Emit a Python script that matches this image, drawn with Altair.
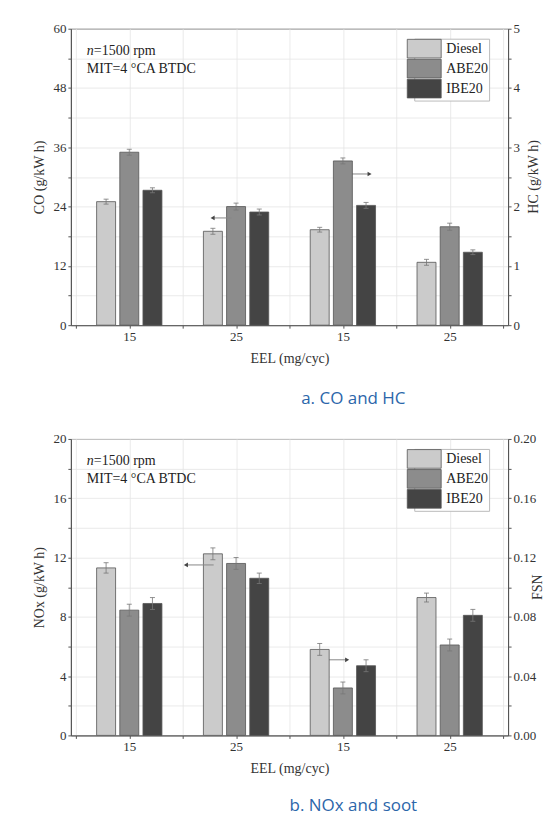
import altair as alt
import pandas as pd

# ---------------- data ----------------
group_labels = ["15", "25", "15", "25"]
fuels = ["Diesel", "ABE20", "IBE20"]
fuel_colors = ["#cbcbcb", "#8c8c8c", "#444444"]

# panel a: CO (groups 1-2, left axis) and HC (groups 3-4, right axis)
co_diesel = [25.0, 19.0]
co_abe20 = [35.0, 24.0]
co_ibe20 = [27.3, 22.9]
co_err_diesel = [0.5, 0.6]
co_err_abe20 = [0.6, 0.7]
co_err_ibe20 = [0.5, 0.6]

hc_diesel = [1.61, 1.06]
hc_abe20 = [2.77, 1.66]
hc_ibe20 = [2.02, 1.23]
hc_err_diesel = [0.04, 0.05]
hc_err_abe20 = [0.05, 0.06]
hc_err_ibe20 = [0.05, 0.04]

# panel b: NOx (groups 1-2, left axis) and FSN (groups 3-4, right axis)
nox_diesel = [11.3, 12.25]
nox_abe20 = [8.45, 11.6]
nox_ibe20 = [8.9, 10.6]
nox_err_diesel = [0.35, 0.4]
nox_err_abe20 = [0.4, 0.4]
nox_err_ibe20 = [0.4, 0.35]

fsn_diesel = [0.058, 0.093]
fsn_abe20 = [0.032, 0.061]
fsn_ibe20 = [0.047, 0.081]
fsn_err_diesel = [0.004, 0.003]
fsn_err_abe20 = [0.004, 0.004]
fsn_err_ibe20 = [0.004, 0.004]

# arrows (in left-axis units): tail x, head x, y, direction
arrows_a_tail = [0.96, 2.02]
arrows_a_head = [0.78, 2.25]
arrows_a_y = [21.7, 30.6]
arrows_b_tail = [0.79, 1.81]
arrows_b_head = [0.53, 2.04]
arrows_b_y = [11.5, 5.1]
arrow_dirs = ["left", "right"]

note_n = ["n"]
note_rpm = ["=1500 rpm"]
note_mit = ["MIT=4 \u00b0CA BTDC"]

SERIF = "Liberation Serif"
BAR_STEP = 0.217


def rows(group_idx, series, errs):
    out = []
    for fi, (fuel, vals, es) in enumerate(zip(fuels, series, errs)):
        for g, v, e in zip(group_idx, vals, es):
            out.append(dict(xpos=g + (fi - 1) * BAR_STEP, fuel=fuel,
                            value=v, lo=v - e, hi=v + e))
    return pd.DataFrame(out)


x_values = [-0.5 + 0.5 * i for i in range(9)]
label_expr = " : ".join(
    f"datum.value == {i} ? '{lab}'" for i, lab in enumerate(group_labels)
) + " : ''"

X_SCALE = alt.Scale(domain=[-0.5, 3.5], nice=False, zero=False)
X_AXIS = alt.Axis(values=x_values, labelExpr=label_expr, title="EEL (mg/cyc)",
                  grid=True, labelPadding=2, titlePadding=8)

W, H = 438, 297


def xenc(field):
    return alt.X(field, type="quantitative", scale=X_SCALE, axis=X_AXIS)


def make_panel(left_df, right_df, lmax, lstep, lmajor, ltitle,
               rmax, rstep, rmajor, rtitle, rfmt, rtitle_x,
               a_tail, a_head, a_y, caption, cap_offset):
    lvals = [round(i * lstep, 6) for i in range(int(round(lmax / lstep)) + 1)]
    rvals = [round(i * rstep, 6) for i in range(int(round(rmax / rstep)) + 1)]
    ly = dict(scale=alt.Scale(domain=[0, lmax], nice=False),
              axis=alt.Axis(values=lvals, title=ltitle, orient="left",
                            labelExpr=f"abs(datum.value/{lmajor} - round(datum.value/{lmajor})) < 1e-6 ? datum.label : ''",
                            grid=True, labelPadding=2, titlePadding=6))
    ry = dict(scale=alt.Scale(domain=[0, rmax], nice=False),
              axis=alt.Axis(values=rvals, title=None, orient="right",
                            labelExpr=f"abs(datum.value/{rmajor} - round(datum.value/{rmajor})) < 1e-6 ? format(datum.value, '{rfmt}') : ''",
                            grid=False, labelPadding=2))

    fill = alt.Fill("fuel:N", scale=alt.Scale(domain=fuels, range=fuel_colors),
                    legend=alt.Legend(title=None, orient="none", legendX=344, legendY=10,
                                      symbolType="M-2,-1.1H2V1.1H-2Z", symbolSize=289,
                                      symbolStrokeColor="#555", symbolStrokeWidth=0.8,
                                      symbolOpacity=1, labelFont=SERIF, labelFontSize=14,
                                      labelColor="#222", labelOffset=13, rowPadding=-4,
                                      padding=1, strokeColor="#bbbbbb", fillColor="white"))

    def bars(df, yd):
        b = alt.Chart(df).mark_bar(size=19, stroke="#555", strokeWidth=0.8).encode(
            x=xenc("xpos"), y=alt.Y("value:Q", **yd), fill=fill)
        e = alt.Chart(df).mark_rule(color="#777", strokeWidth=0.8).encode(
            x=xenc("xpos"), y=alt.Y("lo:Q", **yd), y2="hi:Q")
        c1 = alt.Chart(df).mark_rule(color="#777", strokeWidth=0.8, xOffset=-2.5, x2Offset=2.5).encode(
            x=xenc("xpos"), x2="xpos:Q", y=alt.Y("hi:Q", **yd))
        c2 = alt.Chart(df).mark_rule(color="#777", strokeWidth=0.8, xOffset=-2.5, x2Offset=2.5).encode(
            x=xenc("xpos"), x2="xpos:Q", y=alt.Y("lo:Q", **yd))
        return [b, e, c1, c2]

    adf = pd.DataFrame(dict(tail=a_tail, head=a_head, y=a_y, dir=arrow_dirs))
    arrow_line = alt.Chart(adf).mark_rule(color="#888", strokeWidth=1).encode(
        x=xenc("tail"), x2="head:Q", y=alt.Y("y:Q", **ly))
    arrow_head = alt.Chart(adf).mark_point(filled=True, size=22, color="#444", opacity=1).encode(
        x=xenc("head"), y=alt.Y("y:Q", **ly),
        shape=alt.Shape("dir:N", scale=alt.Scale(domain=arrow_dirs,
                                                 range=["triangle-left", "triangle-right"]),
                        legend=None))

    t1 = alt.Chart(pd.DataFrame({"t": note_n})).mark_text(
        align="left", baseline="middle", font=SERIF, fontSize=14, fontStyle="italic",
        color="#222").encode(x=alt.value(16), y=alt.value(22), text="t:N")
    t2 = alt.Chart(pd.DataFrame({"t": note_rpm})).mark_text(
        align="left", baseline="middle", font=SERIF, fontSize=14,
        color="#222").encode(x=alt.value(23), y=alt.value(22), text="t:N")
    t3 = alt.Chart(pd.DataFrame({"t": note_mit})).mark_text(
        align="left", baseline="middle", font=SERIF, fontSize=14,
        color="#222").encode(x=alt.value(16), y=alt.value(40), text="t:N")
    rt = alt.Chart(pd.DataFrame({"t": [rtitle]})).mark_text(
        align="center", baseline="middle", font=SERIF, fontSize=14, angle=270,
        color="#333").encode(x=alt.value(W + rtitle_x), y=alt.value(H / 2), text="t:N")

    left = alt.layer(*bars(left_df, ly), arrow_line, arrow_head, t1, t2, t3, rt)
    right = alt.layer(*bars(right_df, ry))
    return alt.layer(left, right).resolve_scale(y="independent").properties(
        width=W, height=H,
        title=alt.TitleParams(caption, orient="bottom", anchor="middle", frame="group",
                              dx=64, offset=cap_offset, font="Open Sans", fontSize=17,
                              fontWeight="normal", color="#2b66aa"))


panel_a = make_panel(
    rows([0, 1], [co_diesel, co_abe20, co_ibe20], [co_err_diesel, co_err_abe20, co_err_ibe20]),
    rows([2, 3], [hc_diesel, hc_abe20, hc_ibe20], [hc_err_diesel, hc_err_abe20, hc_err_ibe20]),
    60, 6, 12, "CO (g/kW h)", 5, 0.5, 1, "HC (g/kW h)", "d", 26,
    arrows_a_tail, arrows_a_head, arrows_a_y, "a. CO and HC", 26)

panel_b = make_panel(
    rows([0, 1], [nox_diesel, nox_abe20, nox_ibe20], [nox_err_diesel, nox_err_abe20, nox_err_ibe20]),
    rows([2, 3], [fsn_diesel, fsn_abe20, fsn_ibe20], [fsn_err_diesel, fsn_err_abe20, fsn_err_ibe20]),
    20, 2, 4, "NOx (g/kW h)", 0.20, 0.02, 0.04, "FSN", ".2f", 30,
    arrows_b_tail, arrows_b_head, arrows_b_y, "b. NOx and soot", 23)

chart = alt.vconcat(panel_a, panel_b, spacing=24).resolve_scale(
    fill="independent").resolve_legend(fill="independent").properties(
    padding={"left": 24, "top": 13, "right": 0, "bottom": 0},
    background="white"
).configure_view(stroke="#555", strokeWidth=1).configure_axis(
    labelFont=SERIF, titleFont=SERIF, labelFontSize=13, titleFontSize=14,
    titleFontWeight="normal", labelColor="#333", titleColor="#333",
    domainColor="#555", tickColor="#555", tickSize=3,
    gridColor="#e4e4e4", gridWidth=0.8)

chart.save("out.html", embed_options={"renderer": "svg", "actions": False})
